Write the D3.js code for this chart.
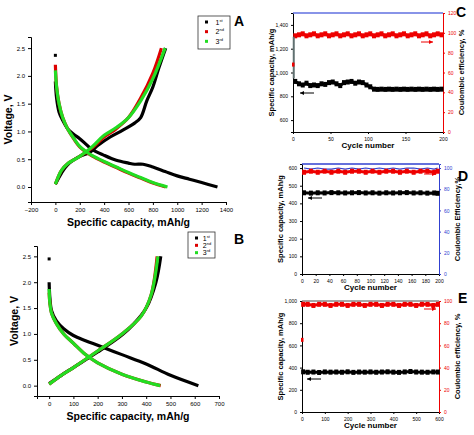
<!DOCTYPE html>
<html><head><meta charset="utf-8">
<script src="https://cdn.jsdelivr.net/npm/d3@7"></script>
<style>body{margin:0;background:#fff}svg{font-family:"Liberation Sans",Arial,sans-serif}</style>
</head><body><svg id="svg1" width="474" height="435"></svg>
<script>
// ---- data: panel A (capacity mAh/g, voltage V)
var aDis1 = [[0,1.9],[10,1.6],[30,1.35],[60,1.2],[100,1.05],[150,0.95],[200,0.87],[300,0.68],[400,0.57],[500,0.48],[600,0.43],[650,0.41],[720,0.41],[800,0.36],[900,0.28],[1000,0.2],[1100,0.14],[1200,0.08],[1330,0]];
var aCha1 = [[0,0.05],[50,0.25],[100,0.4],[200,0.55],[280,0.62],[350,0.75],[450,0.9],[550,1.02],[650,1.15],[700,1.25],[750,1.55],[800,1.8],[850,2.15],[905,2.5]];
var aDis2 = [[0,2.2],[10,1.8],[30,1.5],[60,1.25],[100,1.05],[150,0.87],[200,0.72],[250,0.63],[300,0.56],[400,0.45],[500,0.35],[600,0.25],[700,0.16],[800,0.07],[905,0]];
var aCha2 = [[0,0.05],[50,0.3],[100,0.42],[200,0.55],[300,0.7],[400,0.9],[500,1.05],[600,1.25],[700,1.6],[800,2.05],[870,2.5]];
var aDis3 = [[0,2.1],[10,1.8],[30,1.5],[60,1.25],[100,1.05],[150,0.88],[200,0.73],[250,0.64],[300,0.57],[400,0.46],[500,0.36],[600,0.26],[700,0.17],[800,0.08],[920,0]];
var aCha3 = [[0,0.05],[50,0.3],[100,0.42],[200,0.55],[300,0.72],[400,0.93],[500,1.07],[600,1.25],[700,1.55],[800,1.95],[900,2.5]];
var aFirst = [[0,2.37]];
// ---- panel B
var bDis1 = [[0,2.0],[3,1.7],[10,1.45],[30,1.25],[60,1.1],[100,0.97],[150,0.87],[200,0.78],[300,0.6],[400,0.42],[500,0.2],[615,0]];
var bCha1 = [[0,0.04],[50,0.2],[100,0.35],[200,0.65],[300,0.98],[350,1.2],[400,1.5],[440,2.0],[460,2.5]];
var bDis2 = [[0,1.8],[3,1.6],[10,1.4],[30,1.2],[60,1.0],[100,0.82],[150,0.6],[200,0.44],[300,0.22],[400,0.07],[460,0]];
var bCha2 = [[0,0.03],[50,0.2],[100,0.35],[200,0.67],[300,1.0],[380,1.35],[420,1.75],[445,2.5]];
var bDis3 = [[0,1.87],[3,1.6],[10,1.4],[30,1.2],[60,1.0],[100,0.82],[150,0.6],[200,0.44],[300,0.22],[400,0.07],[458,0]];
var bCha3 = [[0,0.03],[50,0.2],[100,0.35],[200,0.67],[300,1.0],[380,1.35],[420,1.75],[448,2.5]];
var bFirst = [[0,2.45]];
var legendLabels = ['1', '2', '3'];
var legendSup = ['st', 'nd', 'rd'];
// ---- panel C (cycle, capacity) and (cycle, CE)
var cCycles = [3,8,13,18,23,28,33,38,43,48,53,58,63,68,73,78,83,88,93,98,103,108,113,118,123,128,133,138,143,148,153,158,163,168,173,178,183,188,193,198];
var cCap = [925,905,895,910,890,895,890,905,900,915,920,905,890,915,920,925,910,920,915,895,880,860,858,860,858,860,858,860,858,860,858,860,858,860,858,860,858,860,858,860];
var cCE = [97,98,99,97,98,99,97,98,99,97,98,99,97,98,99,97,98,99,97,98,99,97,98,99,97,98,99,97,98,99,97,98,99,97,98,99,97,98,99,98];
var cFirstCap = [1300, 950], cFirstCE = 68;
// ---- panel D
var dCycles = [3,13,23,33,43,53,63,73,83,93,103,113,123,133,143,153,163,173,183,193,198];
var dCap = [460,458,460,459,461,460,459,460,461,459,460,458,460,459,460,461,459,460,458,459,457];
var dCE = [96,97,96,97,96,97,96,97,97,96,97,96,97,97,96,97,96,97,97,96,97];
var dCE2 = [100,99,100,99,99,100,99,100,99,100,99,100,99,100,99,100,100,99,100,99,100];
// ---- panel E
var eCycles = [5,25,50,75,100,125,150,175,200,225,250,275,300,325,350,375,400,425,450,475,500,525,550,575,595];
var eCap = [362,358,360,356,361,359,360,358,362,357,360,359,361,358,360,362,359,357,361,365,360,359,358,361,360];
var eCE = [97,97,96,97,97,96,97,97,96,97,97,96,97,97,96,97,97,96,97,97,96,97,97,96,97];
var eFirstCE = 65;

var svg = d3.select('#svg1');

function voltagePanel(o) {
    var g = svg.append('g');
    var x = d3.scaleLinear().domain(o.xd).range(o.xr);
    var y = d3.scaleLinear().domain(o.yd).range(o.yr);
    g.append('g').attr('transform', 'translate(0,' + o.yr[0] + ')')
        .call(d3.axisBottom(x).tickValues(o.ticks).tickSize(3).tickFormat(d3.format('d')))
        .call(function(a){ a.selectAll('text').style('font-size', '6px'); });
    g.append('g').attr('transform', 'translate(' + o.xr[0] + ',0)')
        .call(d3.axisLeft(y).tickValues([0,0.5,1,1.5,2,2.5]).tickSize(3).tickFormat(d3.format('.1f')))
        .call(function(a){ a.selectAll('text').style('font-size', '6px'); });
    var line2 = d3.line().x(function(d){ return x(d[0]); }).y(function(d){ return y(d[1]); }).curve(d3.curveCatmullRom);
    var cols = ['#000', '#d00', '#22dd22'];
    o.curves.forEach(function(c, i) {
        g.append('path').datum(c[0]).attr('d', line2).attr('fill', 'none').attr('stroke', cols[i]).attr('stroke-width', 3.2);
        g.append('path').datum(c[1]).attr('d', line2).attr('fill', 'none').attr('stroke', cols[i]).attr('stroke-width', 3.2);
    });
    g.selectAll('.first').data(o.first).enter().append('rect')
        .attr('x', function(d){ return x(d[0]) - 1.5; }).attr('y', function(d){ return y(d[1]) - 1.5; })
        .attr('width', 3).attr('height', 3).attr('fill', '#000');
    g.append('text').text('Specific capacity, mAh/g').attr('x', (o.xr[0] + o.xr[1]) / 2).attr('y', o.xlab)
        .attr('text-anchor', 'middle').style('font-weight', 'bold').style('font-size', '10.5px');
    g.append('text').text('Voltage, V').attr('transform', 'translate(' + o.ylab + ',' + ((o.yr[0] + o.yr[1]) / 2) + ')rotate(-90)')
        .attr('text-anchor', 'middle').style('font-weight', 'bold').style('font-size', '10.5px');
    var lg = g.append('g').attr('transform', 'translate(' + o.leg[0] + ',' + o.leg[1] + ')');
    lg.append('rect').attr('width', o.leg[2]).attr('height', o.leg[3]).attr('fill', '#fff').attr('stroke', '#333').attr('stroke-width', 0.8);
    legendLabels.forEach(function(l, i) {
        var yy = 6 + i * (o.leg[3] - 4) / 3;
        lg.append('rect').attr('x', 7).attr('y', yy - 1.5).attr('width', 3).attr('height', 3).attr('fill', cols[i]);
        var t = lg.append('text').attr('x', o.leg[2] * 0.55).attr('y', yy + 2.5).style('font-size', '7px');
        t.append('tspan').text(l);
        t.append('tspan').text(legendSup[i]).attr('dy', -3).style('font-size', '4px');
    });
    svg.append('text').text(o.letter).attr('x', o.lpos[0]).attr('y', o.lpos[1]).style('font-weight', 'bold').style('font-size', '14px');
}

voltagePanel({
    xd: [-200, 1400], xr: [31, 226], yd: [-0.27, 2.7], yr: [202, 37], ticks: [-200,0,200,400,600,800,1000,1200,1400],
    curves: [[aDis1, aCha1], [aDis2, aCha2], [aDis3, aCha3]], first: aFirst,
    xlab: 226, ylab: 12, leg: [198, 16, 32, 33], letter: 'A', lpos: [234, 26]
});
voltagePanel({
    xd: [-50, 700], xr: [37, 219], yd: [-0.2, 2.7], yr: [396, 246], ticks: [0,100,200,300,400,500,600,700],
    curves: [[bDis1, bCha1], [bDis2, bCha2], [bDis3, bCha3]], first: bFirst,
    xlab: 420, ylab: 18, leg: [188, 232, 27, 26], letter: 'B', lpos: [234, 244]
});

function cyclePanel(o) {
    var g = svg.append('g');
    var x = d3.scaleLinear().domain(o.xd).range(o.xr);
    var y = d3.scaleLinear().domain(o.yd).range(o.yr);
    var y2 = d3.scaleLinear().domain(o.y2d).range(o.yr);
    function small(a){ a.selectAll('text').style('font-size', '5px'); }
    g.append('g').attr('transform', 'translate(0,' + o.yr[0] + ')')
        .call(d3.axisBottom(x).tickValues(o.xt).tickSize(2)).call(small);
    g.append('g').attr('transform', 'translate(' + o.xr[0] + ',0)')
        .call(d3.axisLeft(y).tickValues(o.yt).tickSize(2)).call(small);
    var ra = g.append('g').attr('transform', 'translate(' + o.xr[1] + ',0)')
        .call(d3.axisRight(y2).tickValues(o.y2t).tickSize(2)).call(small);
    ra.selectAll('path,line').attr('stroke', o.rcol);
    ra.selectAll('text').attr('fill', o.rcol);
    g.append('line').attr('x1', o.xr[0]).attr('x2', o.xr[1]).attr('y1', o.yr[1]).attr('y2', o.yr[1])
        .attr('stroke', o.topcol).attr('stroke-width', 1.5);
    var lc = d3.line().x(function(d){ return x(d[0]); }).y(function(d){ return y(d[1]); });
    var le = d3.line().x(function(d){ return x(d[0]); }).y(function(d){ return y2(d[1]); });
    var capPts = o.cyc.map(function(c, i){ return [c, o.cap[i]]; });
    var cePts = o.cyc.map(function(c, i){ return [c, o.ce[i]]; });
    if (o.ce2) {
        var p2 = o.cyc.map(function(c, i){ return [c, o.ce2[i]]; });
        g.append('path').datum(p2).attr('d', le).attr('fill', 'none').attr('stroke', '#3040d0').attr('stroke-width', 1.2);
    }
    g.append('path').datum(capPts).attr('d', lc).attr('fill', 'none').attr('stroke', '#000').attr('stroke-width', 3);
    g.append('path').datum(cePts).attr('d', le).attr('fill', 'none').attr('stroke', '#e00').attr('stroke-width', 3);
    g.selectAll('.cm').data(capPts).enter().append('rect').attr('x', function(d){ return x(d[0]) - 2; })
        .attr('y', function(d){ return y(d[1]) - 2.5; }).attr('width', 4).attr('height', 5).attr('fill', '#000');
    g.selectAll('.em').data(cePts).enter().append('rect').attr('x', function(d){ return x(d[0]) - 2; })
        .attr('y', function(d){ return y2(d[1]) - 2.5; }).attr('width', 4).attr('height', 5).attr('fill', '#e00');
    if (o.firstCap) g.append('line').attr('x1', x(1)).attr('x2', x(1)).attr('y1', y(o.firstCap[0])).attr('y2', y(o.firstCap[1]))
        .attr('stroke', '#607070').attr('stroke-width', 2);
    if (o.firstCE) g.append('rect').attr('x', x(0) - 1).attr('y', y2(o.firstCE) - 2).attr('width', 2.5).attr('height', 4).attr('fill', '#e00');
    g.append('line').attr('x1', o.xr[0] + o.al[0] + 14).attr('x2', o.xr[0] + o.al[0]).attr('y1', o.al[1]).attr('y2', o.al[1]).attr('stroke', '#000').attr('stroke-width', 1);
    g.append('path').attr('d', 'M' + (o.xr[0] + o.al[0]) + ',' + o.al[1] + 'l4,-2v4z').attr('fill', '#000');
    g.append('line').attr('x1', o.xr[1] - o.ar[0] - 12).attr('x2', o.xr[1] - o.ar[0]).attr('y1', o.ar[1]).attr('y2', o.ar[1]).attr('stroke', '#e00').attr('stroke-width', 1);
    g.append('path').attr('d', 'M' + (o.xr[1] - o.ar[0]) + ',' + o.ar[1] + 'l-4,-2v4z').attr('fill', '#e00');
    g.append('text').text('Cycle number').attr('x', (o.xr[0] + o.xr[1]) / 2).attr('y', o.yr[0] + 16)
        .attr('text-anchor', 'middle').style('font-weight', 'bold').style('font-size', '8px');
    g.append('text').text('Specific capacity, mAh/g').attr('transform', 'translate(' + (o.xr[0] - 19) + ',' + ((o.yr[0] + o.yr[1]) / 2) + ')rotate(-90)')
        .attr('text-anchor', 'middle').style('font-weight', 'bold').style('font-size', '7.5px');
    g.append('text').text(o.rlab).attr('transform', 'translate(' + (o.xr[1] + 21) + ',' + ((o.yr[0] + o.yr[1]) / 2) + ')rotate(-90)')
        .attr('text-anchor', 'middle').style('font-weight', 'bold').style('font-size', '7.5px');
    svg.append('text').text(o.letter).attr('x', o.lpos[0]).attr('y', o.lpos[1]).style('font-weight', 'bold').style('font-size', '14px');
}

cyclePanel({
    xd: [0, 200], xr: [293, 443], yd: [500, 1500], yr: [132, 13], y2d: [0, 120],
    xt: [0,50,100,150,200], yt: [600,800,1000,1200,1400], y2t: [0,20,40,60,80,100,120],
    cyc: cCycles, cap: cCap, ce: cCE, firstCap: cFirstCap, firstCE: cFirstCE,
    rcol: '#e00', topcol: '#6070e0', al: [7, 93], ar: [10, 42],
    rlab: 'Coulombic efficiency, %', letter: 'C', lpos: [456, 17]
});
cyclePanel({
    xd: [0, 200], xr: [302, 439], yd: [0, 623], yr: [274, 164], y2d: [0, 103.8],
    xt: [0,20,40,60,80,100,120,140,160,180,200], yt: [0,100,200,300,400,500,600], y2t: [0,20,40,60,80,100],
    cyc: dCycles, cap: dCap, ce: dCE, ce2: dCE2,
    rcol: '#3040d0', topcol: '#3040d0', al: [6, 198], ar: [3, 174],
    rlab: 'Coulombic Efficiency,%', letter: 'D', lpos: [458, 181]
});
cyclePanel({
    xd: [0, 600], xr: [302, 439], yd: [0, 1000], yr: [412, 301], y2d: [0, 100],
    xt: [0,100,200,300,400,500,600], yt: [0,200,400,600,800,1000], y2t: [0,20,40,60,80,100],
    cyc: eCycles, cap: eCap, ce: eCE, firstCE: eFirstCE,
    rcol: '#e00', topcol: '#888', al: [5, 379], ar: [3, 309],
    rlab: 'Coulombic efficiency, %', letter: 'E', lpos: [458, 303]
});
</script></body></html>
